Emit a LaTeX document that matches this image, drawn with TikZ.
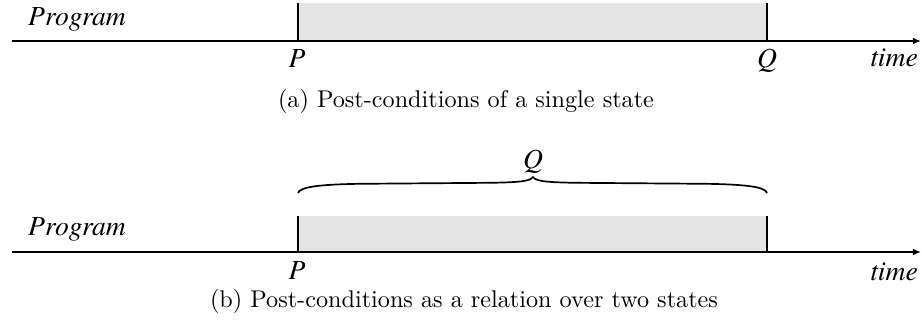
\documentclass[tikz,border=0pt]{standalone}
\usepackage{fontspec}
\newfontfamily\tnri{texgyretermes-italic.otf}
\usetikzlibrary{arrows.meta}
\tikzset{
  lbl/.style={anchor=base,inner sep=0pt,font=\tnri\fontsize{11.4}{13}\selectfont},
  captxt/.style={anchor=base,inner sep=0pt,font=\fontsize{10}{12}\selectfont},
  axis/.style={line width=0.7pt,-{Latex[length=3.4pt,width=2.9pt]}},
  edge/.style={line width=0.7pt},
  span/.style={fill=black!10,draw=none},
  bracestyle/.style={line width=0.7pt}
}
\begin{document}
\begin{tikzpicture}[x=0.4132pt,y=-0.4132pt]
\useasboundingbox (0,0) rectangle (922,322);
% ---- panel (a)
\coordinate (aS) at (12,41);
\coordinate (aE) at (921,41);
\coordinate (aP0) at (298,41);
\coordinate (aP1) at (298,3);
\coordinate (aQ0) at (767,41);
\coordinate (aQ1) at (767,3);
\fill[span] (aP1) rectangle (aQ0);
\draw[edge] (aP0) -- (aP1);
\draw[edge] (aQ0) -- (aQ1);
\draw[axis] (aS) -- (aE);
\node[lbl] (aprog) at (77,26) {Program};
\node[lbl] (aP) at (297,68) {P};
\node[lbl] (aQ) at (767,68) {Q};
\node[lbl] (atime) at (894,67) {time};
\node[captxt] (acap) at (466,108) {(a) Post-conditions of a single state};
% ---- panel (b)
\coordinate (bS) at (12,252);
\coordinate (bE) at (921,252);
\coordinate (bP0) at (298,252);
\coordinate (bP1) at (298,216);
\coordinate (bQ0) at (767,252);
\coordinate (bQ1) at (767,216);
\coordinate (brL) at (298,193);
\coordinate (brT) at (533,177);
\coordinate (brR) at (767,193);
\fill[span] (bP1) rectangle (bQ0);
\draw[edge] (bP0) -- (bP1);
\draw[edge] (bQ0) -- (bQ1);
\draw[axis] (bS) -- (bE);
\draw[bracestyle] (brL) .. controls (300,187) and (318,184.5) .. (360,183.8)
   -- (490,182.8) .. controls (522,182.3) and (530,181) .. (brT)
   .. controls (536,181) and (544,182.3) .. (576,182.8)
   -- (706,183.8) .. controls (748,184.5) and (765,187) .. (brR);
\node[lbl] (bQ) at (533,168) {Q};
\node[lbl] (bprog) at (77,235) {Program};
\node[lbl] (bP) at (297,279) {P};
\node[lbl] (btime) at (894,280) {time};
\node[captxt] (bcap) at (464,307) {(b) Post-conditions as a relation over two states};
\end{tikzpicture}
\end{document}
